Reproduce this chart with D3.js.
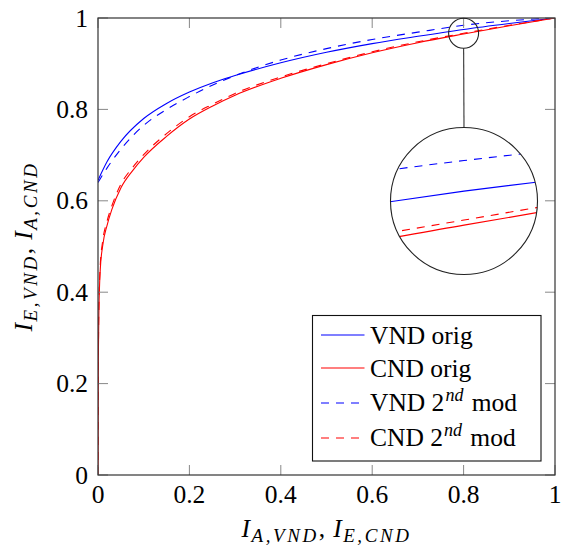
<!DOCTYPE html>
<html><head><meta charset="utf-8">
<script src="https://cdn.jsdelivr.net/npm/d3@7"></script>
<style>
body{margin:0;background:#fff}
svg{display:block}
</style>
</head><body>
<svg id="c" width="561" height="546" font-family="'Liberation Serif', 'Times New Roman', Tinos, 'DejaVu Serif', serif"></svg>
<script>
// ---------- data ----------
const xTicks = [0, 0.2, 0.4, 0.6, 0.8, 1];
const yTicks = [0, 0.2, 0.4, 0.6, 0.8, 1];
const tickLabels = ["0", "0.2", "0.4", "0.6", "0.8", "1"];

const xVND   = [0, 0.02, 0.05, 0.1, 0.15, 0.2, 0.25, 0.3, 0.4, 0.5, 0.6, 0.7, 0.8, 0.9, 1];
const vndOrig = [0.645, 0.686, 0.730, 0.780, 0.813, 0.838, 0.858, 0.874, 0.902, 0.925, 0.944, 0.960, 0.975, 0.988, 1.0];
const vndMod  = [0.640, 0.672, 0.713, 0.765, 0.800, 0.828, 0.853, 0.874, 0.908, 0.933, 0.953, 0.969, 0.984, 0.994, 1.0];

const xCND   = [0, 0.0005, 0.001, 0.002, 0.005, 0.01, 0.02, 0.03, 0.05, 0.075, 0.1, 0.15, 0.2, 0.25, 0.3, 0.4, 0.5, 0.6, 0.7, 0.8, 0.9, 1];
const cndOrig = [0, 0.20, 0.28, 0.36, 0.45, 0.50, 0.547, 0.58, 0.628, 0.665, 0.695, 0.741, 0.779, 0.807, 0.831, 0.868, 0.898, 0.924, 0.946, 0.965, 0.983, 1.0];
const cndMod  = [0, 0.21, 0.29, 0.37, 0.46, 0.51, 0.556, 0.588, 0.636, 0.672, 0.701, 0.747, 0.784, 0.811, 0.835, 0.871, 0.900, 0.926, 0.948, 0.9665, 0.984, 1.0];

const legendNames = ["VND orig", "CND orig", "VND 2nd mod", "CND 2nd mod"];

// spy (zoom) region in data units
const spyX = 0.8, spyY = 0.9665;
const insetCenterY = 0.9721;

// ---------- layout ----------
const L = 98, R = 555, T = 18, B = 475;
const svg = d3.select("#c");
const x = d3.scaleLinear().domain([0, 1]).range([L, R]);
const y = d3.scaleLinear().domain([0, 1]).range([B, T]);

const series = [
  {x: xVND, y: vndOrig, color: "#0000ff", dash: null},
  {x: xCND, y: cndOrig, color: "#ff0000", dash: null},
  {x: xVND, y: vndMod,  color: "#0000ff", dash: "8,7"},
  {x: xCND, y: cndMod,  color: "#ff0000", dash: "8,7"}
];

const defs = svg.append("defs");
defs.append("clipPath").attr("id", "plotclip")
  .append("rect").attr("x", L).attr("y", T).attr("width", R - L).attr("height", B - T);

function drawSeries(g, sx, sy) {
  series.forEach(s => {
    const pts = s.x.map((v, i) => [v, s.y[i]]);
    const line = d3.line().x(d => sx(d[0])).y(d => sy(d[1])).curve(d3.curveMonotoneX);
    g.append("path").attr("d", line(pts)).attr("fill", "none")
      .attr("stroke", s.color).attr("stroke-width", 1.1)
      .attr("stroke-dasharray", s.dash);
  });
}

const plotG = svg.append("g").attr("clip-path", "url(#plotclip)");
drawSeries(plotG, x, y);

// ticks (inside, mirrored)
const tl = 10;
const tickG = svg.append("g").attr("stroke", "#888").attr("stroke-width", 1);
xTicks.forEach(t => {
  tickG.append("line").attr("x1", x(t)).attr("x2", x(t)).attr("y1", B).attr("y2", B - tl);
  tickG.append("line").attr("x1", x(t)).attr("x2", x(t)).attr("y1", T).attr("y2", T + tl);
});
yTicks.forEach(t => {
  tickG.append("line").attr("y1", y(t)).attr("y2", y(t)).attr("x1", L).attr("x2", L + tl);
  tickG.append("line").attr("y1", y(t)).attr("y2", y(t)).attr("x1", R).attr("x2", R - tl);
});

// frame
svg.append("rect").attr("x", L).attr("y", T).attr("width", R - L).attr("height", B - T)
  .attr("fill", "none").attr("stroke", "#333").attr("stroke-width", 1.2);

// tick labels
xTicks.forEach((t, i) => {
  svg.append("text").attr("x", x(t)).attr("y", 503).attr("text-anchor", "middle")
    .attr("font-size", 25.5).text(tickLabels[i]);
});
yTicks.forEach((t, i) => {
  svg.append("text").attr("x", 88).attr("y", y(t) + 8.5).attr("text-anchor", "end")
    .attr("font-size", 25.5).text(tickLabels[i]);
});

// axis titles
function mathLabel(g, parts) {
  const t = g.append("text").attr("text-anchor", "middle");
  parts.forEach(p => {
    const ts = t.append("tspan").text(p.s).attr("font-size", p.sub ? 19 : 25.5)
      .attr("font-style", p.it ? "italic" : "normal");
    if (p.dy) ts.attr("dy", p.dy);
    if (p.ls) ts.attr("letter-spacing", p.ls);
    if (p.dx) ts.attr("dx", p.dx);
  });
  return t;
}
const xl = svg.append("g").attr("transform", "translate(326.5,537)");
mathLabel(xl, [
  {s: "I", it: true},
  {s: "A,VND", it: true, sub: true, dy: 5, ls: 2.6, dx: 1.5},
  {s: ",", dy: -5},
  {s: "I", it: true, dx: 8},
  {s: "E,CND", it: true, sub: true, dy: 5, ls: 2.6, dx: 1.5}
]);
const yl = svg.append("g").attr("transform", "translate(32,246.5) rotate(-90)");
mathLabel(yl, [
  {s: "I", it: true},
  {s: "E,VND", it: true, sub: true, dy: 5, ls: 2.6, dx: 1.5},
  {s: ",", dy: -5},
  {s: "I", it: true, dx: 8},
  {s: "A,CND", it: true, sub: true, dy: 5, ls: 2.6, dx: 1.5}
]);

// spy: small circle, connector, big magnified circle
const smallR = 15, bigCx = 464, bigCy = 201, bigR = 73.5;
const kx = 3560, ky = 3400;
const ix = d3.scaleLinear().domain([spyX - bigR / kx, spyX + bigR / kx]).range([bigCx - bigR, bigCx + bigR]);
const iy = d3.scaleLinear().domain([insetCenterY - bigR / ky, insetCenterY + bigR / ky]).range([bigCy + bigR, bigCy - bigR]);

svg.append("line").attr("x1", x(spyX)).attr("x2", bigCx)
  .attr("y1", y(spyY) + smallR).attr("y2", bigCy - bigR)
  .attr("stroke", "#444").attr("stroke-width", 1.2);
svg.append("circle").attr("cx", x(spyX)).attr("cy", y(spyY)).attr("r", smallR)
  .attr("fill", "none").attr("stroke", "#222").attr("stroke-width", 1.1);

defs.append("clipPath").attr("id", "insetclip")
  .append("circle").attr("cx", bigCx).attr("cy", bigCy).attr("r", bigR);
svg.append("circle").attr("cx", bigCx).attr("cy", bigCy).attr("r", bigR).attr("fill", "#fff");
const insetG = svg.append("g").attr("clip-path", "url(#insetclip)");
drawSeries(insetG, ix, iy);
svg.append("circle").attr("cx", bigCx).attr("cy", bigCy).attr("r", bigR)
  .attr("fill", "none").attr("stroke", "#222").attr("stroke-width", 1.1);

// legend
const lg = svg.append("g");
lg.append("rect").attr("x", 312.5).attr("y", 315.5).attr("width", 228.5).attr("height", 145.5)
  .attr("fill", "#fff").attr("stroke", "#111").attr("stroke-width", 1.1);
const rowY = [343.5, 376.5, 411, 446];
series.forEach((s, i) => {
  const ly = Math.round(rowY[i] - 8.5);
  lg.append("line").attr("x1", 321).attr("x2", 364.5).attr("y1", ly).attr("y2", ly)
    .attr("stroke", s.color).attr("stroke-width", 1.1).attr("stroke-dasharray", s.dash);
  const t = lg.append("text").attr("x", 370).attr("y", rowY[i]).attr("font-size", 25.5);
  const name = legendNames[i];
  const m = name.match(/^(.*?)(\d)(nd)(.*)$/);
  if (m) {
    t.append("tspan").text(m[1] + m[2]);
    t.append("tspan").text(m[3]).attr("font-style", "italic").attr("font-size", 18).attr("dy", -10).attr("dx", 1);
    t.append("tspan").text(m[4]).attr("dy", 10).attr("dx", 2);
  } else {
    t.text(name);
  }
});
</script>
</body></html>
